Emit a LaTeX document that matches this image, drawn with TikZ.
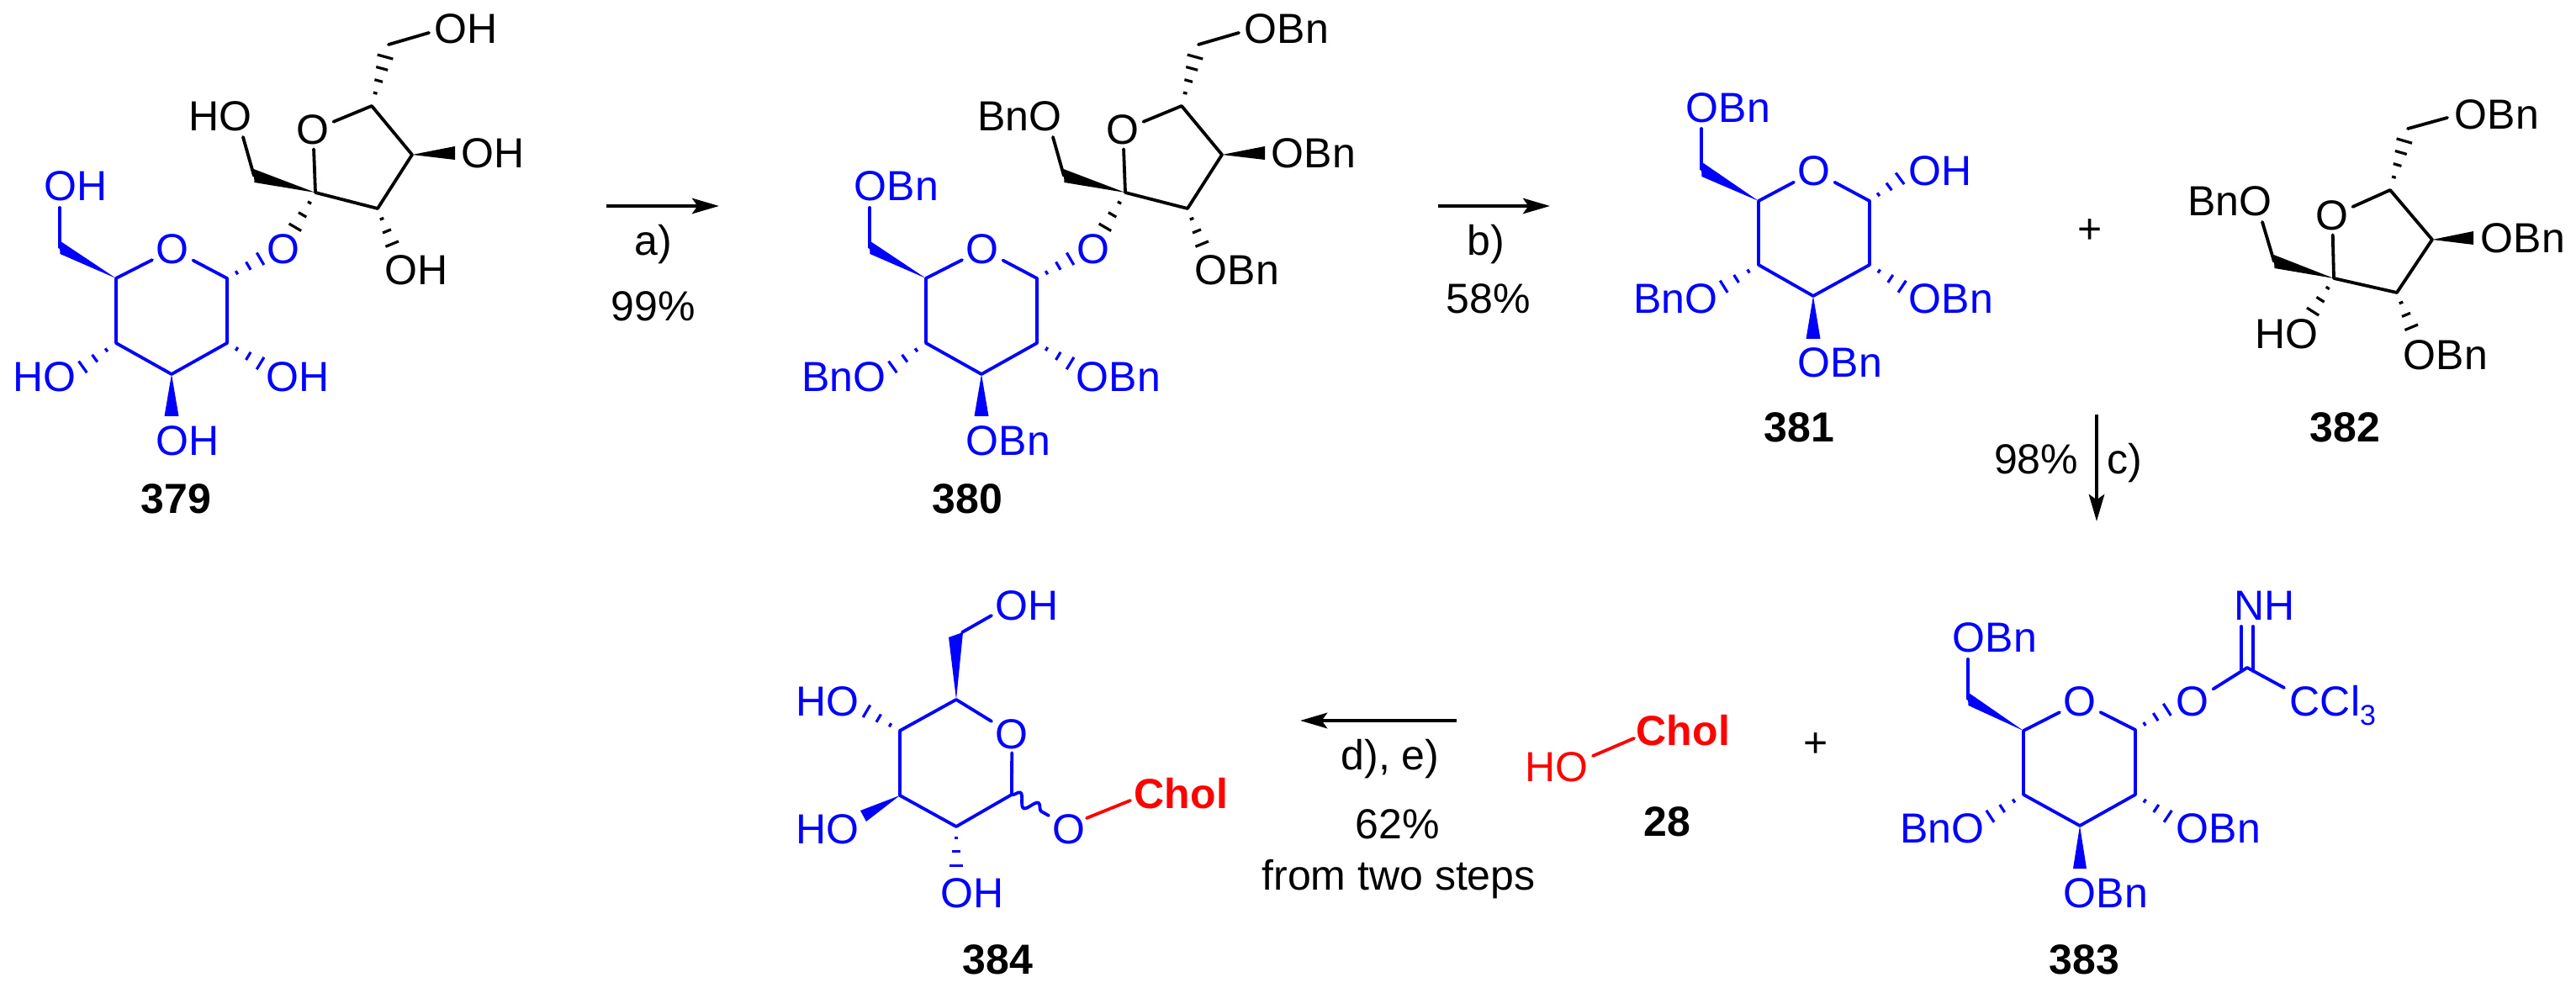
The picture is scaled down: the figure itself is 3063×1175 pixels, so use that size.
\documentclass[tikz,border=0pt]{standalone}
\usepackage{fontspec}
\setmainfont{Liberation Sans}
\usetikzlibrary{arrows.meta,calc,decorations.pathmorphing}

\newcommand{\wedgebond}[5][black]{\fill[#1] (#2) -- ($(#3)+(#4,#5)$) -- ($(#3)-(#4,#5)$) -- cycle;}
\newcommand{\hashbond}[3][black]{\foreach \hf/\hl in {0.25/0.6,0.55/1.35,0.86/2.1}{
    \draw[#1,hashline] ($(#2)!\hf!(#3)!\hl pt!90:(#3)$) -- ($(#2)!\hf!(#3)!\hl pt!-90:(#3)$);}}
\newcommand{\hashlong}[3][black]{\foreach \hf/\hl in {0.21/0.6,0.41/1.25,0.61/1.8,0.8/2.4}{
    \draw[#1,hashline] ($(#2)!\hf!(#3)!\hl pt!90:(#3)$) -- ($(#2)!\hf!(#3)!\hl pt!-90:(#3)$);}}

% disaccharide 379/380: prefix, shift, right label, left label, number x, number
\newcommand{\sucroseunit}[6]{
\begin{scope}[shift={(#2,0)},name prefix=#1]
    % glucose part
    \coordinate (c1) at (270,331);
    \coordinate (c2) at (270,408);
    \coordinate (c3) at (204,445);
    \coordinate (c4) at (138,408);
    \coordinate (c5) at (138,331);
    \coordinate (c6) at (71,294);
    \coordinate (e6) at (71,247);
    \coordinate (e4) at (92,441);
    \coordinate (e2) at (316,436);
    \coordinate (e1) at (316,304);
    \coordinate (e3) at (204,495);
    \node[rlabel,blue] (ringo) at (187,314) {O};
    \node[rlabel,blue] (oh6) at (54,239) {#3};
    \node[llabel,blue] (oh4) at (89,466) {#4};
    \node[rlabel,blue] (oh2) at (318,466) {#3};
    \node[rlabel,blue] (oh3) at (187,542) {#3};
    \node[rlabel,blue] (glyo) at (319,314) {O};
    \draw[bond,blue] (c5) -- (ringo) -- (c1) -- (c2) -- (c3) -- (c4) -- (c5);
    \draw[bond,blue] (c6) -- (e6);
    \wedgebond[blue]{c5}{c6}{0.5}{8}
    \wedgebond[blue]{c3}{e3}{8.5}{0}
    \hashbond[blue]{c4}{e4}
    \hashbond[blue]{c2}{e2}
    \hashbond[blue]{c1}{e1}
    % fructose part
    \coordinate (f2) at (375,229);
    \coordinate (f3) at (449,248);
    \coordinate (f4) at (490,184);
    \coordinate (f5) at (442,126);
    \coordinate (f1) at (302,209);
    \coordinate (g1) at (289,163);
    \coordinate (f6) at (462,53);
    \coordinate (g6) at (510,39);
    \coordinate (g4) at (541,182);
    \coordinate (g3) at (469,297);
    \coordinate (g2) at (347,277);
    \node[rlabel] (fo) at (354,172) {O};
    \node[llabel] (oh1) at (298,156) {#4};
    \node[rlabel] (oh66) at (518,52) {#3};
    \node[rlabel] (oh44) at (550,200) {#3};
    \node[rlabel] (oh33) at (459,339) {#3};
    \draw[bond] (f2) -- (fo) -- (f5) -- (f4) -- (f3) -- (f2);
    \draw[bond] (f1) -- (g1);
    \draw[bond] (f6) -- (g6);
    \wedgebond{f2}{f1}{0.5}{8}
    \wedgebond{f4}{g4}{0}{8}
    \hashlong{f5}{f6}
    \hashbond{f3}{g3}
    \hashbond{f2}{g2}
    \node[rlabel,bold] (num) at (#5,611) {#6};
\end{scope}}

\begin{document}
\begin{tikzpicture}[x=0.25pt, y=-0.25pt, font=\fontsize{12.5}{15}\selectfont,
        rlabel/.style = {anchor=base west, inner sep=1pt, xshift=-1.5pt},
        llabel/.style = {anchor=base east, inner sep=1pt, xshift=1.5pt},
        clabel/.style = {anchor=base, inner sep=0pt},
        bold/.style = {font=\fontsize{12.5}{15}\selectfont\bfseries},
        bond/.style = {line width=0.95pt, line cap=round, line join=round},
        hashline/.style = {line width=0.8pt},
        rxn/.style = {line width=1.05pt, -{Stealth[length=8pt, width=4.6pt, inset=1.6pt]}}]
    \useasboundingbox (0,0) rectangle (3063,1175);

    \sucroseunit{s-}{0}{OH}{HO}{169}{379}
    \sucroseunit{t-}{963}{OBn}{BnO}{147}{380}

    % arrows of the first row
    \coordinate (a1) at (721,245);
    \coordinate (a2) at (855,245);
    \draw[rxn] (a1) -- (a2);
    \node[clabel] (acond) at (777,304) {a)};
    \node[clabel] (ayield) at (777,382) {99\%};
    \coordinate (b1) at (1710,245);
    \coordinate (b2) at (1843,245);
    \draw[rxn] (b1) -- (b2);
    \node[clabel] (bcond) at (1767,304) {b)};
    \node[clabel] (byield) at (1770,373) {58\%};

    % 381
    \begin{scope}[name prefix=p-]
        \coordinate (c1) at (2223,239);
        \coordinate (c2) at (2223,315);
        \coordinate (c3) at (2156,352);
        \coordinate (c4) at (2091,315);
        \coordinate (c5) at (2091,239);
        \coordinate (c6) at (2023,201);
        \coordinate (e6) at (2023,153);
        \coordinate (e1) at (2265,208);
        \coordinate (e2) at (2268,345);
        \coordinate (e3) at (2156,403);
        \coordinate (e4) at (2043,345);
        \node[rlabel,blue] (ringo) at (2139,221) {O};
        \node[rlabel,blue] (o6) at (2006,146) {OBn};
        \node[rlabel,blue] (o1) at (2271,221) {OH};
        \node[llabel,blue] (o4) at (2041,373) {BnO};
        \node[rlabel,blue] (o2) at (2271,373) {OBn};
        \node[rlabel,blue] (o3) at (2139,449) {OBn};
        \draw[bond,blue] (c5) -- (ringo) -- (c1) -- (c2) -- (c3) -- (c4) -- (c5);
        \draw[bond,blue] (c6) -- (e6);
        \wedgebond[blue]{c5}{c6}{0.5}{9}
        \wedgebond[blue]{c3}{e3}{8.5}{0}
        \hashbond[blue]{c1}{e1}
        \hashbond[blue]{c2}{e2}
        \hashbond[blue]{c4}{e4}
        \node[rlabel,bold] (num) at (2099,526) {381};
    \end{scope}
    \node (plusa) at (2485,275) {+};

    % 382
    \begin{scope}[name prefix=q-]
        \coordinate (f1) at (2704,311);
        \coordinate (g1) at (2690,264);
        \coordinate (f2) at (2775,331);
        \coordinate (f3) at (2850,348);
        \coordinate (f4) at (2892,285);
        \coordinate (f5) at (2842,226);
        \coordinate (f6) at (2863,153);
        \coordinate (g6) at (2910,140);
        \coordinate (g4) at (2941,283);
        \coordinate (g3) at (2870,396);
        \coordinate (g2) at (2746,377);
        \node[rlabel] (fo) at (2755,274) {O};
        \node[llabel] (o1) at (2700,257) {BnO};
        \node[rlabel] (o6) at (2920,154) {OBn};
        \node[rlabel] (o4) at (2951,301) {OBn};
        \node[rlabel] (o3) at (2859,440) {OBn};
        \node[llabel] (oh2) at (2755,415) {HO};
        \draw[bond] (f2) -- (fo) -- (f5) -- (f4) -- (f3) -- (f2);
        \draw[bond] (f1) -- (g1);
        \draw[bond] (f6) -- (g6);
        \wedgebond{f2}{f1}{0.5}{8}
        \wedgebond{f4}{g4}{0}{8}
        \hashlong{f5}{f6}
        \hashbond{f3}{g3}
        \hashbond{f2}{g2}
        \node[rlabel,bold] (num) at (2748,526) {382};
    \end{scope}

    % arrow c
    \coordinate (c1) at (2493,493);
    \coordinate (c2) at (2493,620);
    \draw[rxn] (c1) -- (c2);
    \node[llabel] (cyield) at (2470,564) {98\%};
    \node[rlabel] (ccond) at (2507,564) {c)};

    % 383
    \begin{scope}[name prefix=r-]
        \coordinate (c1) at (2539,868);
        \coordinate (c2) at (2539,945);
        \coordinate (c3) at (2473,982);
        \coordinate (c4) at (2406,945);
        \coordinate (c5) at (2406,869);
        \coordinate (c6) at (2340,831);
        \coordinate (e6) at (2340,784);
        \coordinate (e1) at (2583,840);
        \coordinate (e2) at (2584,975);
        \coordinate (e3) at (2473,1033);
        \coordinate (e4) at (2360,975);
        \coordinate (imc) at (2672,794);
        \coordinate (cl) at (2716,818);
        \coordinate (nla) at (2665,745);
        \coordinate (nlb) at (2679,745);
        \coordinate (ima) at (2665,798);
        \coordinate (imb) at (2679,798);
        \node[rlabel,blue] (ringo) at (2455,852) {O};
        \node[rlabel,blue] (o6) at (2323,776) {OBn};
        \node[rlabel,blue] (o1) at (2589,852) {O};
        \node[rlabel,blue] (nh) at (2658,738) {NH};
        \node[rlabel,blue] (ccl) at (2724,852) {CCl\raisebox{-2.7pt}{\fontsize{8.5}{9}\selectfont 3}};
        \node[llabel,blue] (o4) at (2358,1003) {BnO};
        \node[rlabel,blue] (o2) at (2589,1003) {OBn};
        \node[rlabel,blue] (o3) at (2455,1079) {OBn};
        \draw[bond,blue] (c5) -- (ringo) -- (c1) -- (c2) -- (c3) -- (c4) -- (c5);
        \draw[bond,blue] (c6) -- (e6);
        \draw[bond,blue] (o1) -- (imc) -- (cl);
        \draw[bond,blue] (ima) -- (nla);
        \draw[bond,blue] (imb) -- (nlb);
        \wedgebond[blue]{c5}{c6}{0.5}{8}
        \wedgebond[blue]{c3}{e3}{8}{0}
        \hashbond[blue]{c1}{e1}
        \hashbond[blue]{c2}{e2}
        \hashbond[blue]{c4}{e4}
        \node[rlabel,bold] (num) at (2438,1158) {383};
    \end{scope}
    \node (plusb) at (2159,886) {+};

    % 28
    \coordinate (chola) at (1894,899);
    \coordinate (cholb) at (1943,878);
    \node[llabel,red] (ho) at (1887,930) {HO};
    \node[rlabel,red,bold] (chol) at (1947,887) {Chol};
    \draw[bond,red] (chola) -- (cholb);
    \node[rlabel,bold] (n28) at (1956,994) {28};

    % arrow d
    \coordinate (d1) at (1732,857);
    \coordinate (d2) at (1546,857);
    \draw[rxn] (d1) -- (d2);
    \node[clabel] (dcond) at (1653,916) {d), e)};
    \node[clabel] (dyield) at (1662,998) {62\%};
    \node[clabel] (dnote) at (1663,1059) {from two steps};

    % 384
    \begin{scope}[name prefix=u-]
        \coordinate (c1) at (1203,945);
        \coordinate (c2) at (1137,983);
        \coordinate (c3) at (1070,946);
        \coordinate (c4) at (1070,869);
        \coordinate (c5) at (1137,832);
        \coordinate (c6) at (1136.5,755);
        \coordinate (c7) at (1144,752);
        \coordinate (e6) at (1179,732);
        \coordinate (e4) at (1024,842);
        \coordinate (e3) at (1026.5,970.5);
        \coordinate (e2) at (1137,1037);
        \coordinate (w1) at (1247,970);
        \coordinate (r1) at (1292,973);
        \coordinate (r2) at (1344,952);
        \node[rlabel,blue] (ringo) at (1185,890) {O};
        \node[rlabel,blue] (o6) at (1185,738) {OH};
        \node[llabel,blue] (o4) at (1020,852) {HO};
        \node[llabel,blue] (o3) at (1020,1004) {HO};
        \node[rlabel,blue] (o2) at (1120,1079) {OH};
        \node[rlabel,blue] (o1) at (1253,1004) {O};
        \node[rlabel,red,bold] (chol) at (1350,961) {Chol};
        \draw[bond,blue] (c5) -- (ringo) -- (c1) -- (c2) -- (c3) -- (c4) -- (c5);
        \draw[bond,blue] (c7) -- (e6);
        \draw[bond,blue,decorate,decoration={snake, amplitude=1.8pt, segment length=6.2pt}] (c1) -- (w1);
        \draw[bond,red] (r1) -- (r2);
        \wedgebond[blue]{c5}{c6}{8.5}{-3}
        \wedgebond[blue]{c3}{e3}{3.5}{6.5}
        \hashbond[blue]{c4}{e4}
        \hashbond[blue]{c2}{e2}
        \node[rlabel,bold] (num) at (1146,1158) {384};
    \end{scope}
\end{tikzpicture}
\end{document}
